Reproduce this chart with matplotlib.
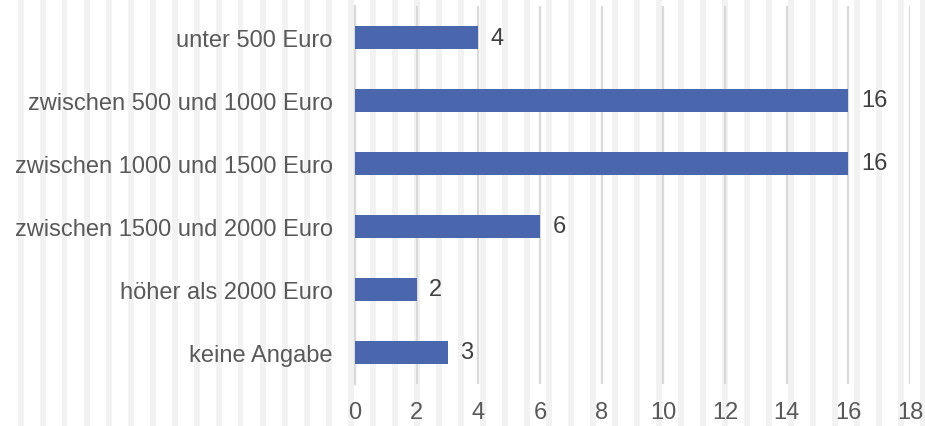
import matplotlib
matplotlib.use("Agg")
from matplotlib import pyplot as plt
from matplotlib.patches import Rectangle

plt.rcParams['font.family'] = ['Liberation Sans', 'DejaVu Sans']

kategorien = ['unter 500 Euro',
              'zwischen 500 und 1000 Euro',
              'zwischen 1000 und 1500 Euro',
              'zwischen 1500 und 2000 Euro',
              'höher als 2000 Euro',
              'keine Angabe']
anzahl = [4, 16, 16, 6, 2, 3]
x_ticks = [0, 2, 4, 6, 8, 10, 12, 14, 16, 18]

text_farbe = '#595959'
balken_farbe = '#4a66ac'
schrift = 17

fig = plt.figure(figsize=(9.25, 4.27), dpi=100)
fig.patch.set_facecolor('white')

# helle Streifen im Hintergrund
breite_px = 925
x = 18.0
while x < breite_px:
    fig.patches.append(Rectangle((x / breite_px, 0), 5.5 / breite_px, 1,
                                 transform=fig.transFigure, facecolor='#f2f2f2',
                                 edgecolor='none', zorder=-10))
    x += 22.0

ax = fig.add_axes([0.3838, 0.0984, 0.6, 0.8852])
ax.patch.set_alpha(0)

pos = list(range(len(kategorien)))
balken = ax.barh(pos, anzahl, height=0.35, color=balken_farbe, zorder=3)
ax.bar_label(balken, padding=9, fontsize=schrift, color='#404040')

ax.set_ylim(len(kategorien) - 0.5, -0.5)
ax.set_yticks(pos)
ax.set_yticklabels(kategorien)
ax.set_xlim(0, 18)
ax.set_xticks(x_ticks)

ax.grid(axis='x', color='#d9d9d9', linewidth=1.6, zorder=0)
for s in ['top', 'right', 'bottom']:
    ax.spines[s].set_visible(False)
ax.spines['left'].set_color('#d9d9d9')
ax.spines['left'].set_linewidth(1.6)

ax.tick_params(axis='both', length=0, labelsize=schrift, labelcolor=text_farbe)
ax.tick_params(axis='y', pad=16)
ax.tick_params(axis='x', pad=12)

fig.savefig('out.png', dpi=100)
